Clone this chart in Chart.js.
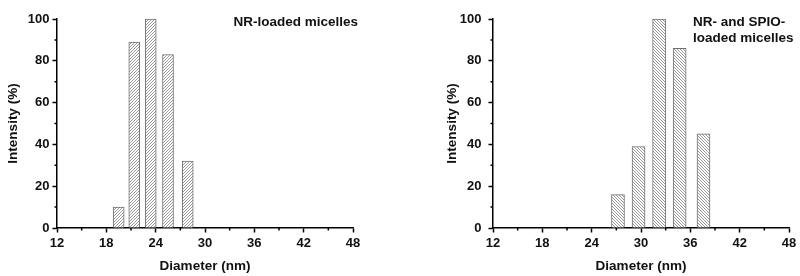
<!DOCTYPE html>
<html>
<head>
<meta charset="utf-8">
<script src="https://cdn.jsdelivr.net/npm/chart.js@4"></script>
<style>
  html, body { margin: 0; padding: 0; background: #fff; }
  #wrap { display: flex; width: 800px; height: 276px; }
  canvas { display: block; }
</style>
</head>
<body>
<div id="wrap">
  <canvas id="left" width="400" height="276"></canvas>
  <canvas id="right" width="400" height="276"></canvas>
</div>
<script>
'use strict';
// Data
const xTicks = [12, 18, 24, 30, 36, 42, 48];
const yTicks = [0, 20, 40, 60, 80, 100];

const nrDiameter = [19.5, 21.4, 23.4, 25.5, 27.9];
const nrIntensity = [10, 89, 100, 83, 32];

const spioDiameter = [27.2, 29.7, 32.2, 34.7, 37.6];
const spioIntensity = [16, 39, 100, 86, 45];

const FONT = 'Liberation Sans, Arial, sans-serif';

// diagonal hatch fill
function hatch(dir) {
    const s = 3;
    const c = document.createElement('canvas');
    c.width = s; c.height = s;
    const g = c.getContext('2d');
    g.fillStyle = '#fff';
    g.fillRect(0, 0, s, s);
    g.strokeStyle = '#9a9a9a';
    g.lineWidth = 1;
    g.beginPath();
    if (dir > 0) {
        g.moveTo(0, s); g.lineTo(s, 0);
        g.moveTo(-1, 1); g.lineTo(1, -1);
        g.moveTo(s - 1, s + 1); g.lineTo(s + 1, s - 1);
    } else {
        g.moveTo(0, 0); g.lineTo(s, s);
        g.moveTo(-1, s - 1); g.lineTo(1, s + 1);
        g.moveTo(s - 1, -1); g.lineTo(s + 1, 1);
    }
    g.stroke();
    return g.createPattern(c, 'repeat');
}

// minor ticks + label text
const extras = {
    id: 'extras',
    afterDraw(chart, args, opts) {
        const ctx = chart.ctx;
        const x = chart.scales.x, y = chart.scales.y;
        ctx.save();
        ctx.strokeStyle = '#000';
        ctx.lineWidth = 1.5;
        ctx.beginPath();
        for (let i = 0; i < xTicks.length - 1; i++) {
            const px = x.getPixelForValue((xTicks[i] + xTicks[i + 1]) / 2);
            ctx.moveTo(px, y.bottom);
            ctx.lineTo(px, y.bottom + 2.5);
        }
        for (let i = 0; i < yTicks.length - 1; i++) {
            const py = y.getPixelForValue((yTicks[i] + yTicks[i + 1]) / 2);
            ctx.moveTo(x.left, py);
            ctx.lineTo(x.left - 2.5, py);
        }
        ctx.stroke();

        ctx.fillStyle = '#111';
        ctx.font = 'bold 13.5px ' + FONT;
        ctx.textBaseline = 'middle';
        ctx.textAlign = opts.align;
        const tx = opts.align === 'right' ? chart.chartArea.right + 5 : chart.chartArea.left + 200;
        opts.lines.forEach((t, i) => ctx.fillText(t, tx, 22 + i * 16));
        ctx.restore();
    }
};

function makeChart(id, xs, ys, dir, barW, pad, yWidth, yPad, lines, align) {
    return new Chart(document.getElementById(id), {
        type: 'bar',
        data: {
            datasets: [{
                data: xs.map((v, i) => ({ x: v, y: ys[i] })),
                backgroundColor: hatch(dir),
                borderColor: '#707070',
                borderWidth: 1,
                barThickness: barW,
            }],
        },
        options: {
            responsive: false,
            animation: false,
            layout: { padding: pad },
            plugins: {
                legend: { display: false },
                tooltip: { enabled: false },
                extras: { lines: lines, align: align },
            },
            scales: {
                x: {
                    type: 'linear',
                    min: 12,
                    max: 48,
                    offset: false,
                    afterBuildTicks: (s) => { s.ticks = xTicks.map((v) => ({ value: v })); },
                    afterFit: (s) => { s.height = 48; },
                    grid: { drawOnChartArea: false, offset: false, tickLength: 4.5, tickColor: '#000', tickWidth: 1.5 },
                    border: { color: '#000', width: 1.5 },
                    ticks: { color: '#111', padding: 3, maxRotation: 0, font: { family: FONT, size: 13, weight: 'bold' } },
                    title: {
                        display: true,
                        text: 'Diameter (nm)',
                        color: '#111',
                        padding: { top: 4, bottom: 2 },
                        font: { family: FONT, size: 13.5, weight: 'bold' },
                    },
                },
                y: {
                    min: 0,
                    max: 100,
                    afterBuildTicks: (s) => { s.ticks = yTicks.map((v) => ({ value: v })); },
                    afterFit: (s) => { s.width = yWidth; },
                    grid: { drawOnChartArea: false, tickLength: 4.5, tickColor: '#000', tickWidth: 1.5 },
                    border: { color: '#000', width: 1.5 },
                    ticks: { color: '#111', padding: yPad, font: { family: FONT, size: 13, weight: 'bold' } },
                    title: {
                        display: true,
                        text: 'Intensity (%)',
                        color: '#111',
                        padding: { top: 5, bottom: 2 },
                        font: { family: FONT, size: 13.5, weight: 'bold' },
                    },
                },
            },
        },
        plugins: [extras],
    });
}

makeChart('left', nrDiameter, nrIntensity, 1, 11,
    { left: 0, right: 47, top: 19, bottom: 0 }, 57, 3,
    ['NR-loaded micelles'], 'right');

makeChart('right', spioDiameter, spioIntensity, -1, 13,
    { left: 39, right: 11, top: 19, bottom: 0 }, 54, 7,
    ['NR- and SPIO-', 'loaded micelles'], 'left');
</script>
</body>
</html>
